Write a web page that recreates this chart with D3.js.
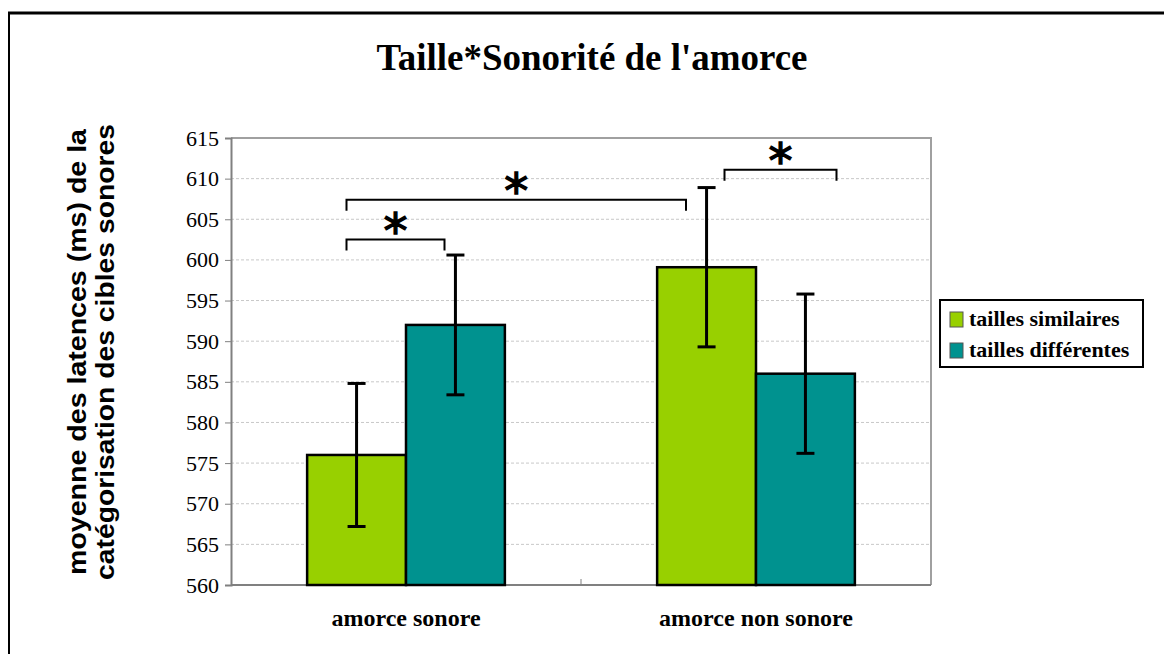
<!DOCTYPE html>
<html><head><meta charset="utf-8">
<script src="https://cdn.jsdelivr.net/npm/d3@7"></script>
<style>body{margin:0;background:#fff}svg{display:block}</style>
</head><body>
<svg id="c" width="1164" height="654"></svg>
<script>
const categories = ["amorce sonore", "amorce non sonore"];
const seriesNames = ["tailles similaires", "tailles différentes"];
const meansSimilar = [576, 599.1];
const meansDifferent = [592, 586];
const errSimilar = [8.8, 9.8];
const errDifferent = [8.6, 9.8];
const yTicks = [560, 565, 570, 575, 580, 585, 590, 595, 600, 605, 610, 615];
// significance brackets: x in category units (0..2), y level in ms
const bracketX1 = [0.33, 0.33, 1.41];
const bracketX2 = [0.61, 1.30, 1.73];
const bracketY = [602.5, 607.4, 611.1];
const colors = ["#98D000", "#00928F"];

const svg = d3.select("#c");
const L = 231, R = 931, T = 138, B = 585;
const y = d3.scaleLinear().domain([560, 615]).range([B, T]);
const x0 = d3.scaleBand().domain(categories).range([L, R]).paddingInner(0).paddingOuter(0);
const x1 = d3.scaleBand().domain(seriesNames).range([0, x0.bandwidth()]).paddingInner(0).paddingOuter(0.77);
const xc = d3.scaleLinear().domain([0, 2]).range([L, R]);

// outer frame
svg.append("line").attr("x1", 8).attr("x2", 1164).attr("y1", 13).attr("y2", 13).attr("stroke", "#000").attr("stroke-width", 3);
svg.append("line").attr("x1", 9).attr("x2", 9).attr("y1", 12).attr("y2", 654).attr("stroke", "#000").attr("stroke-width", 2);

// title
svg.append("text").attr("x", 592).attr("y", 70).attr("text-anchor", "middle")
  .attr("font-family", "Liberation Serif").attr("font-weight", "bold").attr("font-size", 38)
  .attr("textLength", 431).attr("lengthAdjust", "spacingAndGlyphs")
  .text("Taille*Sonorité de l'amorce");

// gridlines
svg.append("g").selectAll("line").data(yTicks.slice(1, -1)).join("line")
  .attr("x1", L).attr("x2", R).attr("y1", d => y(d)).attr("y2", d => y(d))
  .attr("stroke", "#c8c8c8").attr("stroke-width", 1).attr("stroke-dasharray", "3,2");

// plot border (top/right)
svg.append("path").attr("d", `M${L},${T}H${R}V${B}`).attr("fill", "none").attr("stroke", "#a0a0a0").attr("stroke-width", 2);

// y axis
const yAxis = d3.axisLeft(y).tickValues(yTicks).tickSize(6).tickPadding(6).tickFormat(d3.format("d"));
const ga = svg.append("g").attr("transform", `translate(${L},0)`).call(yAxis);
ga.select(".domain").attr("stroke", "#808080").attr("stroke-width", 2);
ga.selectAll(".tick line").attr("stroke", "#808080");
ga.selectAll("text").attr("font-family", "Liberation Serif").attr("font-size", 22).attr("fill", "#000");

// x axis baseline and center tick
svg.append("line").attr("x1", L).attr("x2", R).attr("y1", B).attr("y2", B).attr("stroke", "#808080").attr("stroke-width", 2);
svg.append("line").attr("x1", x0(categories[1])).attr("x2", x0(categories[1])).attr("y1", B).attr("y2", B - 6).attr("stroke", "#808080").attr("stroke-width", 1);

// bars
const rows = categories.map((c, i) => ({c, vals: [
  {s: seriesNames[0], v: meansSimilar[i], e: errSimilar[i], col: colors[0]},
  {s: seriesNames[1], v: meansDifferent[i], e: errDifferent[i], col: colors[1]}]}));
const g = svg.append("g").selectAll("g").data(rows).join("g").attr("transform", d => `translate(${x0(d.c)},0)`);
g.selectAll("rect").data(d => d.vals).join("rect")
  .attr("x", d => x1(d.s)).attr("width", x1.bandwidth())
  .attr("y", d => y(d.v)).attr("height", d => y(560) - y(d.v))
  .attr("fill", d => d.col).attr("stroke", "#000").attr("stroke-width", 2.5);

// error bars
const eb = g.selectAll("g.eb").data(d => d.vals).join("g").attr("class", "eb");
const cx = d => x1(d.s) + x1.bandwidth() / 2;
eb.append("line").attr("x1", cx).attr("x2", cx).attr("y1", d => y(d.v + d.e)).attr("y2", d => y(d.v - d.e)).attr("stroke", "#000").attr("stroke-width", 3);
eb.append("line").attr("x1", d => cx(d) - 9).attr("x2", d => cx(d) + 9).attr("y1", d => y(d.v + d.e)).attr("y2", d => y(d.v + d.e)).attr("stroke", "#000").attr("stroke-width", 3);
eb.append("line").attr("x1", d => cx(d) - 9).attr("x2", d => cx(d) + 9).attr("y1", d => y(d.v - d.e)).attr("y2", d => y(d.v - d.e)).attr("stroke", "#000").attr("stroke-width", 3);

// significance brackets
const br = bracketX1.map((a, i) => ({a, b: bracketX2[i], yv: bracketY[i]}));
const bg = svg.append("g").selectAll("g").data(br).join("g");
bg.append("path").attr("d", d => `M${xc(d.a)},${y(d.yv) + 11}V${y(d.yv)}H${xc(d.b)}V${y(d.yv) + 11}`)
  .attr("fill", "none").attr("stroke", "#000").attr("stroke-width", 2);
bg.append("text").attr("x", d => (xc(d.a) + xc(d.b)) / 2).attr("y", d => y(d.yv) + 8)
  .attr("text-anchor", "middle").attr("font-family", "DejaVu Sans").attr("font-size", 48)
  .attr("stroke", "#000").attr("stroke-width", 1.4).text("*");

// x labels
svg.append("g").selectAll("text").data(categories).join("text")
  .attr("x", d => x0(d) + x0.bandwidth() / 2).attr("y", 626).attr("text-anchor", "middle")
  .attr("font-family", "Liberation Serif").attr("font-weight", "bold").attr("font-size", 24).text(d => d);

// y title
const yt = svg.append("text").attr("transform", "translate(0,352) rotate(-90)")
  .attr("text-anchor", "middle").attr("font-family", "Liberation Sans").attr("font-weight", "bold").attr("font-size", 26);
yt.append("tspan").attr("x", 0).attr("y", 86).attr("textLength", 446).attr("lengthAdjust", "spacingAndGlyphs").text("moyenne des latences (ms) de la");
yt.append("tspan").attr("x", 0).attr("y", 114).attr("textLength", 456).attr("lengthAdjust", "spacingAndGlyphs").text("catégorisation des cibles sonores");

// legend
const lg = svg.append("g").attr("transform", "translate(940,300)");
lg.append("rect").attr("x", 0).attr("y", 0).attr("width", 203).attr("height", 67).attr("fill", "#fff").attr("stroke", "#000").attr("stroke-width", 2);
const li = lg.selectAll("g").data(seriesNames).join("g").attr("transform", (d, i) => `translate(0,${12 + i * 31})`);
li.append("rect").attr("x", 10).attr("y", 0).attr("width", 13).attr("height", 15).attr("fill", (d, i) => colors[i]).attr("stroke", "#555").attr("stroke-width", 1);
li.append("text").attr("x", 29).attr("y", 14).attr("font-family", "Liberation Serif").attr("font-weight", "bold").attr("font-size", 22).text(d => d);
</script>
</body></html>
